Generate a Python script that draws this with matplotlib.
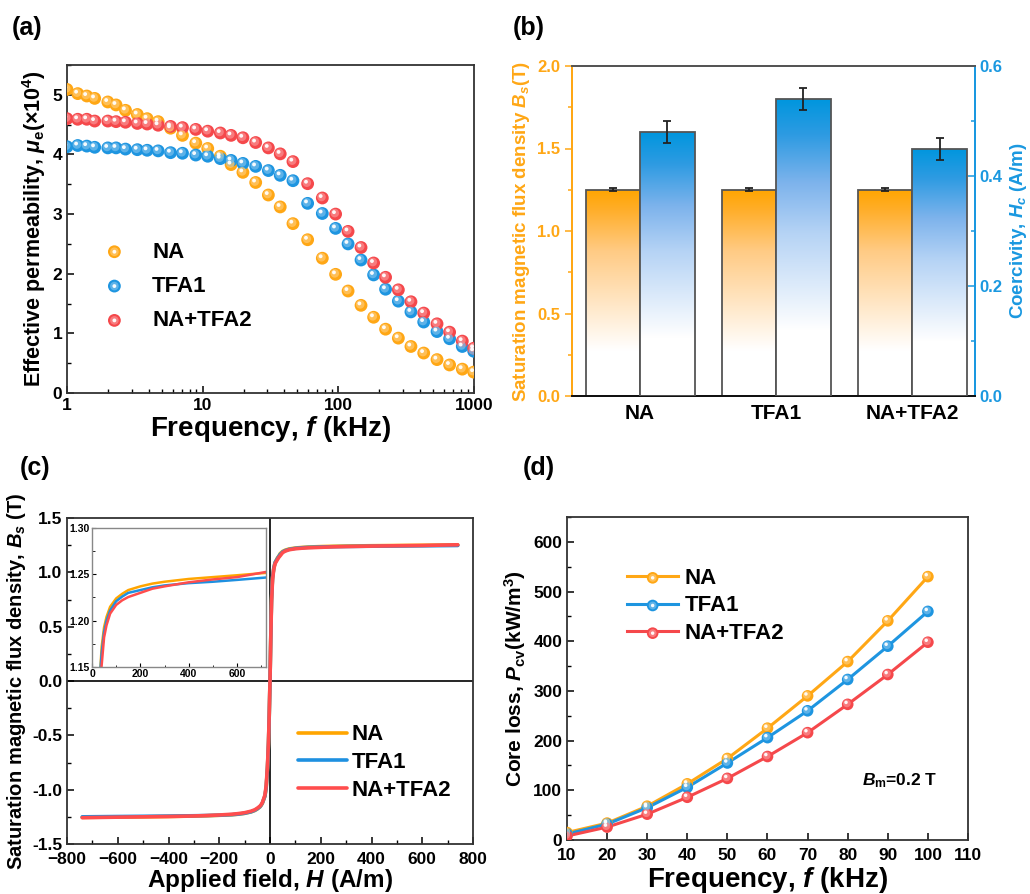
import numpy as np
import matplotlib
matplotlib.use("Agg")
import matplotlib.pyplot as plt
import matplotlib.transforms as mtransforms
from matplotlib.colors import LinearSegmentedColormap, to_rgb
from matplotlib.ticker import MultipleLocator, FixedLocator, NullFormatter, FuncFormatter
from matplotlib.legend_handler import HandlerTuple

plt.rcParams['font.family'] = ['Liberation Sans', 'DejaVu Sans']
plt.rcParams['font.weight'] = 'bold'
plt.rcParams['axes.labelweight'] = 'bold'
plt.rcParams['mathtext.fontset'] = 'custom'
plt.rcParams['mathtext.rm'] = 'Liberation Sans:bold'
plt.rcParams['mathtext.it'] = 'Liberation Sans:italic:bold'
plt.rcParams['mathtext.bf'] = 'Liberation Sans:bold'

# ---------------- data ----------------
series_names = ['NA', 'TFA1', 'NA+TFA2']
c_orange = '#FFA715'
c_blue = '#1E95E0'
c_red = '#F5484B'

# (a) effective permeability (x1e4) vs frequency (kHz)
freq_a = [1, 1.2, 1.4, 1.6, 2, 2.3, 2.7, 3.3, 3.9, 4.7, 5.8, 7.1, 8.9, 10.9, 13.5, 16.2,
          19.8, 24.6, 30.5, 37.3, 46.3, 59.4, 76.2, 95.5, 118, 147, 182, 223, 277, 343,
          426, 534, 661, 820, 995]
mu_NA = [5.09, 5.02, 4.98, 4.94, 4.88, 4.83, 4.74, 4.67, 4.60, 4.55, 4.44, 4.32, 4.19, 4.10,
         3.97, 3.83, 3.70, 3.53, 3.32, 3.12, 2.84, 2.57, 2.26, 1.99, 1.71, 1.47, 1.27, 1.07,
         0.92, 0.78, 0.67, 0.56, 0.47, 0.40, 0.35]
mu_TFA1 = [4.13, 4.15, 4.14, 4.12, 4.11, 4.11, 4.09, 4.08, 4.07, 4.06, 4.03, 4.02, 3.99, 3.97,
           3.93, 3.90, 3.85, 3.80, 3.73, 3.65, 3.56, 3.18, 3.01, 2.76, 2.50, 2.23, 1.98, 1.74,
           1.54, 1.36, 1.19, 1.03, 0.91, 0.78, 0.70]
mu_NATFA2 = [4.60, 4.59, 4.59, 4.56, 4.56, 4.55, 4.54, 4.52, 4.51, 4.49, 4.47, 4.45, 4.42, 4.39,
             4.36, 4.32, 4.28, 4.20, 4.11, 4.01, 3.88, 3.51, 3.27, 3.00, 2.71, 2.44, 2.18, 1.94,
             1.73, 1.53, 1.34, 1.16, 1.02, 0.87, 0.75]

# (b) saturation flux density and coercivity
Bs_vals = [1.25, 1.25, 1.25]
Bs_err = [0.01, 0.01, 0.01]
Hc_vals = [0.48, 0.54, 0.45]
Hc_err = [0.02, 0.02, 0.02]

# (c) hysteresis loops
H_field = [-740, -600, -500, -400, -300, -250, -200, -150, -125, -100, -75, -60, -50, -40, -35,
           -30, -20, -15, -10, -6, -3, 0, 3, 6, 10, 15, 20, 30, 35, 40, 50, 60, 75, 100, 125,
           150, 200, 250, 300, 400, 500, 600, 740]
B_NA = [-1.255, -1.252, -1.250, -1.247, -1.243, -1.240, -1.236, -1.231, -1.226, -1.218, -1.205,
        -1.192, -1.178, -1.160, -1.145, -1.125, -1.06, -0.98, -0.80, -0.58, -0.32, 0.0,
        0.40, 0.75, 0.95, 1.04, 1.09, 1.135, 1.15, 1.172, 1.193, 1.204, 1.215, 1.224, 1.229,
        1.233, 1.237, 1.240, 1.242, 1.245, 1.247, 1.249, 1.252]
B_TFA1 = [-1.250, -1.247, -1.245, -1.243, -1.240, -1.238, -1.235, -1.230, -1.225, -1.217, -1.204,
          -1.190, -1.176, -1.158, -1.143, -1.122, -1.06, -0.98, -0.80, -0.58, -0.32, 0.0,
          0.40, 0.75, 0.95, 1.04, 1.09, 1.13, 1.148, 1.165, 1.188, 1.200, 1.211, 1.221, 1.226,
          1.230, 1.233, 1.236, 1.238, 1.2405, 1.242, 1.244, 1.247]
B_NATFA2 = [-1.258, -1.253, -1.250, -1.247, -1.242, -1.238, -1.233, -1.226, -1.220, -1.212, -1.198,
            -1.185, -1.170, -1.152, -1.138, -1.118, -1.05, -0.96, -0.78, -0.56, -0.30, 0.0,
            0.38, 0.72, 0.93, 1.03, 1.08, 1.12, 1.138, 1.152, 1.182, 1.195, 1.2076, 1.217, 1.222,
            1.2255, 1.230, 1.2345, 1.237, 1.2414, 1.2445, 1.247, 1.2535]

# (d) core loss vs frequency
freq_d = [10, 20, 30, 40, 50, 60, 70, 80, 90, 100]
P_NA = [15, 34, 68, 113, 164, 225, 290, 359, 441, 530]
P_TFA1 = [12, 32, 65, 106, 155, 206, 260, 323, 390, 460]
P_NATFA2 = [8, 26, 52, 86, 124, 168, 216, 273, 333, 398]

# ---------------- figure ----------------
fig = plt.figure(figsize=(10.3, 8.94), dpi=100)
W, Hh = 1030.0, 894.0


def rect(l, r, t, b):
    return [l / W, 1 - b / Hh, (r - l) / W, (b - t) / Hh]


def lighten(col, f):
    c = np.array(to_rgb(col))
    return tuple(c + (1 - c) * f)


def spheres(ax, x, y, color, s, z=3):
    tdata = ax.transData
    base = ax.scatter(x, y, s=s, color=color, edgecolors='none', zorder=z)
    tr1 = mtransforms.offset_copy(tdata, fig=fig, x=-0.6, y=0.7, units='points')
    mid = ax.scatter(x, y, s=s * 0.45, color=lighten(color, 0.35), alpha=0.8,
                     edgecolors='none', zorder=z + 0.05, transform=tr1)
    tr2 = mtransforms.offset_copy(tdata, fig=fig, x=-1.2, y=1.4, units='points')
    hl = ax.scatter(x, y, s=s * 0.09, color='white', alpha=0.95, edgecolors='none',
                    zorder=z + 0.1, transform=tr2)
    return base, mid, hl


def style_ticks(ax, size=11.5):
    ax.tick_params(which='both', direction='in', top=False, right=False, labelsize=size)
    ax.tick_params(which='major', length=5, width=1.1)
    ax.tick_params(which='minor', length=3, width=1.0)
    for sp in ax.spines.values():
        sp.set_linewidth(1.3)
        sp.set_color('#333333')
    for lab in ax.get_xticklabels() + ax.get_yticklabels():
        lab.set_fontweight('bold')


# ---------- (a) ----------
axa = fig.add_axes(rect(67, 474, 65, 393))
axa.set_xscale('log')
ha = []
for yv, col in zip([mu_NA, mu_TFA1, mu_NATFA2], [c_orange, c_blue, c_red]):
    ha.append(spheres(axa, freq_a, yv, col, 85))
axa.set_xlim(1, 1000)
axa.set_ylim(0, 5.5)
axa.yaxis.set_major_locator(FixedLocator([0, 1, 2, 3, 4, 5]))
axa.yaxis.set_minor_locator(MultipleLocator(0.5))
axa.xaxis.set_major_formatter(FuncFormatter(lambda v, p: '%d' % v))
axa.xaxis.set_minor_formatter(NullFormatter())
style_ticks(axa, 12.5)
axa.set_xlabel('Frequency, $f$ (kHz)', fontsize=20, labelpad=1)
axa.set_ylabel(r'Effective permeability, $\mu_{\rm e}$(×10$^{4}$)', fontsize=15.5, labelpad=3)
axa.legend(ha, series_names, handler_map={tuple: HandlerTuple(ndivide=1)},
           loc='center left', bbox_to_anchor=(0.04, 0.325), frameon=False,
           prop={'size': 16, 'weight': 'bold'}, handletextpad=1.2, labelspacing=0.6,
           handlelength=1.0)

# ---------- (b) ----------
axb = fig.add_axes(rect(572, 975, 66, 396))
axb2 = axb.twinx()
xg = np.arange(3)
bw = 0.4
cm_or = LinearSegmentedColormap.from_list('or', [(0, 'white'), (0.22, 'white'),
                                                 (0.7, '#FFCB85'), (0.9, '#FFAE2A'),
                                                 (1, '#FFA500')])
cm_bl = LinearSegmentedColormap.from_list('bl', [(0, 'white'), (0.22, 'white'),
                                                 (0.55, '#B5D3F5'), (0.72, '#7DB3EC'),
                                                 (0.88, '#2E9BE2'), (1, '#0096DE')])
grad = np.linspace(0, 1, 256).reshape(-1, 1)

bars1 = axb.bar(xg - bw / 2, Bs_vals, width=bw, facecolor='none', edgecolor='#555555',
                linewidth=1.3, zorder=3)
for b in bars1:
    im = axb.imshow(grad, extent=[b.get_x(), b.get_x() + b.get_width(), 0, b.get_height()],
                    origin='lower', aspect='auto', cmap=cm_or, zorder=2)
    im.set_clip_path(b)
axb.errorbar(xg - bw / 2, Bs_vals, yerr=Bs_err, fmt='none', ecolor='#222222', elinewidth=1.3,
             capsize=3, capthick=1.3, zorder=4)

bars2 = axb2.bar(xg + bw / 2, Hc_vals, width=bw, facecolor='none', edgecolor='#555555',
                 linewidth=1.3, zorder=3)
for b in bars2:
    im = axb2.imshow(grad, extent=[b.get_x(), b.get_x() + b.get_width(), 0, b.get_height()],
                     origin='lower', aspect='auto', cmap=cm_bl, zorder=2)
    im.set_clip_path(b)
axb2.errorbar(xg + bw / 2, Hc_vals, yerr=Hc_err, fmt='none', ecolor='#222222', elinewidth=1.3,
              capsize=3, capthick=1.3, zorder=4)

axb.set_xlim(-0.5, 2.46)
axb.set_ylim(0, 2.0)
axb2.set_ylim(0, 0.6)
axb.set_aspect('auto')
axb2.set_aspect('auto')
axb.set_xticks(xg)
axb.set_xticklabels(series_names, fontsize=15, fontweight='bold')
axb.tick_params(axis='x', length=0, pad=6)
axb.yaxis.set_major_locator(MultipleLocator(0.5))
axb.yaxis.set_minor_locator(MultipleLocator(0.25))
axb.yaxis.set_major_formatter(FuncFormatter(lambda v, p: '%.1f' % v))
axb2.yaxis.set_major_locator(MultipleLocator(0.2))
axb2.yaxis.set_minor_locator(MultipleLocator(0.1))
axb2.yaxis.set_major_formatter(FuncFormatter(lambda v, p: '%.1f' % v))
axb.tick_params(axis='y', which='both', direction='out', colors=c_orange, labelsize=12,
                width=1.1)
axb.tick_params(axis='y', which='major', length=5)
axb.tick_params(axis='y', which='minor', length=3)
axb2.tick_params(axis='y', which='both', direction='in', colors='#1A98E0', labelsize=12,
                 width=1.1)
axb2.tick_params(axis='y', which='major', length=5)
axb2.tick_params(axis='y', which='minor', length=3)
for lab in axb.get_yticklabels() + axb2.get_yticklabels():
    lab.set_fontweight('bold')
for a in (axb, axb2):
    a.spines['left'].set_color(c_orange)
    a.spines['right'].set_color('#1A98E0')
    a.spines['top'].set_color('#555555')
    a.spines['bottom'].set_color('#111111')
    for sp in a.spines.values():
        sp.set_linewidth(1.4)
axb.set_ylabel('Saturation magnetic flux density $B_{s}$(T)', color=c_orange, fontsize=13.5,
               labelpad=4)
axb2.set_ylabel('Coercivity, $H_{c}$ (A/m)', color='#1A98E0', fontsize=13.5, labelpad=4)

# ---------- (c) ----------
axc = fig.add_axes(rect(67, 473, 518, 844))
hc = []
for yv, col in zip([B_NA, B_TFA1, B_NATFA2], ['#FFA500', '#1E90E0', '#FF4D4D']):
    ln, = axc.plot(H_field, yv, color=col, lw=2.6, solid_capstyle='round')
    hc.append(ln)
axc.axhline(0, color='black', lw=1.2, zorder=1)
axc.axvline(0, color='black', lw=1.2, zorder=1)
axc.set_xlim(-800, 800)
axc.set_ylim(-1.5, 1.5)
axc.xaxis.set_major_locator(MultipleLocator(200))
axc.xaxis.set_minor_locator(MultipleLocator(100))
axc.yaxis.set_major_locator(MultipleLocator(0.5))
axc.yaxis.set_minor_locator(MultipleLocator(0.25))
axc.yaxis.set_major_formatter(FuncFormatter(lambda v, p: '%.1f' % v))
style_ticks(axc, 12.5)
axc.tick_params(axis='x', pad=6)
axc.set_xlabel('Applied field, $H$ (A/m)', fontsize=17.5, labelpad=0)
axc.set_ylabel('Saturation magnetic flux density, $B_{s}$ (T)', fontsize=14.5, labelpad=3)
axc.legend(hc, series_names, loc='center left', bbox_to_anchor=(0.52, 0.25), frameon=False,
           prop={'size': 16, 'weight': 'bold'}, handlelength=2.2, handletextpad=0.2,
           labelspacing=0.3)

# inset
axi = fig.add_axes(rect(92, 266, 528, 667))
for yv, col in zip([B_NA, B_TFA1, B_NATFA2], ['#FFA500', '#1E90E0', '#FF4D4D']):
    axi.plot(H_field, yv, color=col, lw=1.8)
axi.set_xlim(0, 720)
axi.set_ylim(1.15, 1.30)
axi.xaxis.set_major_locator(MultipleLocator(200))
axi.xaxis.set_minor_locator(MultipleLocator(100))
axi.yaxis.set_major_locator(MultipleLocator(0.05))
axi.yaxis.set_minor_locator(MultipleLocator(0.025))
axi.yaxis.set_major_formatter(FuncFormatter(lambda v, p: '%.2f' % v))
axi.tick_params(which='both', direction='in', labelsize=7.5, pad=1.5)
axi.tick_params(which='major', length=3)
axi.tick_params(which='minor', length=1.8)
for lab in axi.get_xticklabels() + axi.get_yticklabels():
    lab.set_fontweight('bold')
for sp in axi.spines.values():
    sp.set_color('#888888')
    sp.set_linewidth(1.0)

# ---------- (d) ----------
axd = fig.add_axes(rect(567, 968, 517, 840))
hd = []
for yv, col in zip([P_NA, P_TFA1, P_NATFA2], [c_orange, c_blue, c_red]):
    ln, = axd.plot(freq_d, yv, color=col, lw=2.2, zorder=2)
    hd.append((ln,) + spheres(axd, freq_d, yv, col, 70, z=3))
axd.set_xlim(10, 110)
axd.set_ylim(0, 650)
axd.xaxis.set_major_locator(MultipleLocator(10))
axd.yaxis.set_major_locator(MultipleLocator(100))
axd.yaxis.set_minor_locator(MultipleLocator(50))
style_ticks(axd, 12.5)
axd.tick_params(axis='x', pad=6)
axd.set_xlabel('Frequency, $f$ (kHz)', fontsize=20, labelpad=1)
axd.set_ylabel(r'Core loss, $P_{\rm cv}$(kW/m$^{3}$)', fontsize=15, labelpad=4)
axd.legend(hd, series_names, handler_map={tuple: HandlerTuple(ndivide=1)},
           loc='center left', bbox_to_anchor=(0.1, 0.725), frameon=False,
           prop={'size': 16, 'weight': 'bold'}, handlelength=2.3, handletextpad=0.3,
           labelspacing=0.3)
axd.text(0.735, 0.17, r'$B_{\rm m}$=0.2 T', transform=axd.transAxes, fontsize=12.5,
         fontweight='bold')

# panel labels
for txt, x, y in [('(a)', 12, 28), ('(b)', 513, 28), ('(c)', 20, 468), ('(d)', 523, 468)]:
    fig.text(x / W, 1 - y / Hh, txt, fontsize=18, fontweight='bold', va='center', ha='left')

fig.savefig('out.png', dpi=100)
